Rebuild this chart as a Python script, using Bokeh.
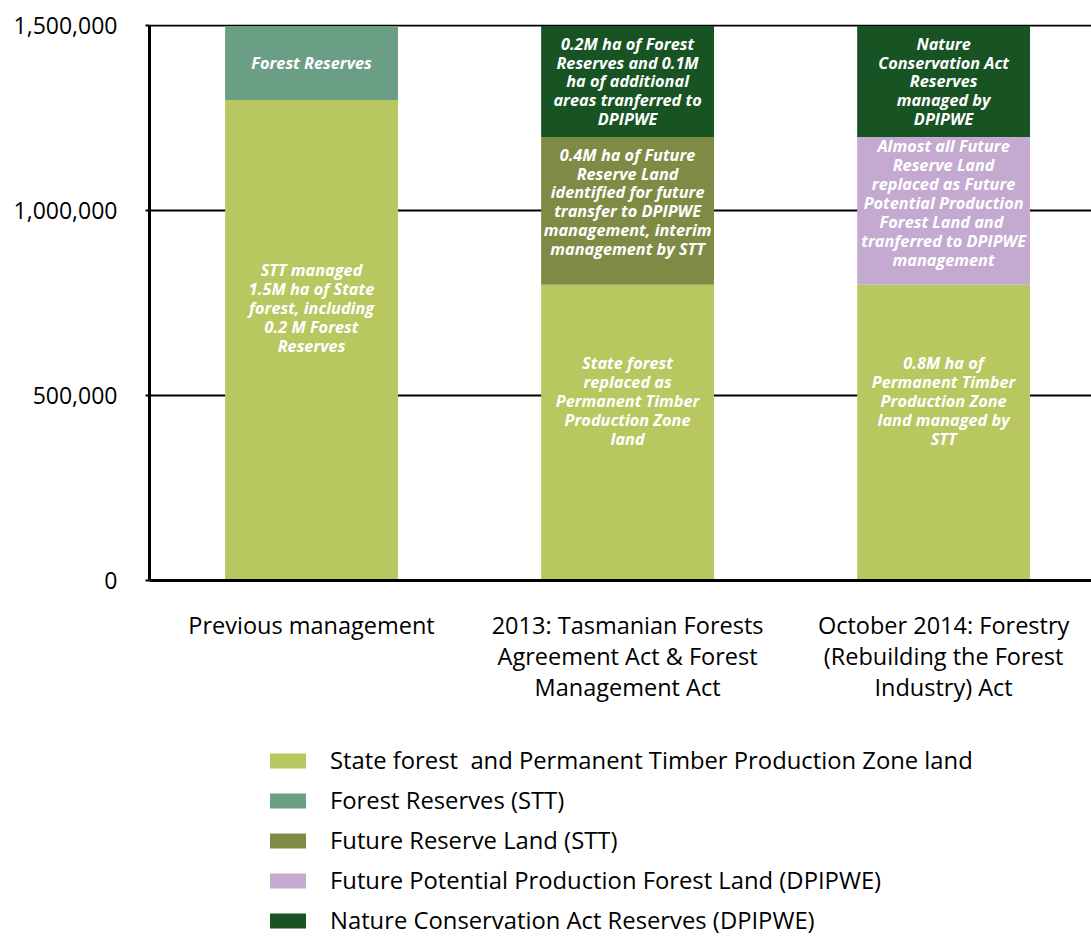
from bokeh.plotting import figure
from bokeh.models import (FixedTicker, NumeralTickFormatter, Range1d, Legend,
                          LegendItem, ColumnDataSource)
from bokeh.core.properties import value
from bokeh.embed import file_html
from bokeh.resources import INLINE

# ---------------- data ----------------
categories = [
    "Previous management",
    "2013: Tasmanian Forests\nAgreement Act & Forest\nManagement Act",
    "October 2014: Forestry\n(Rebuilding the Forest\nIndustry) Act",
]
series_names = [
    "State forest  and Permanent Timber Production Zone land",
    "Forest Reserves (STT)",
    "Future Reserve Land (STT)",
    "Future Potential Production Forest Land (DPIPWE)",
    "Nature Conservation Act Reserves (DPIPWE)",
]
state_forest = [1300000, 800000, 800000]
forest_reserves = [200000, 0, 0]
future_reserve = [0, 400000, 0]
future_potential = [0, 0, 400000]
nature_conservation = [0, 300000, 300000]
y_ticks = [0, 500000, 1000000, 1500000]

# (category index, series index, text)
bar_labels = [
    (0, 0, "STT managed\n1.5M ha of State\nforest, including\n0.2 M Forest\nReserves"),
    (0, 1, "Forest Reserves"),
    (1, 0, "State forest\nreplaced as\nPermanent Timber\nProduction Zone\nland"),
    (1, 2, "0.4M ha of Future\nReserve Land\nidentified for future\ntransfer to DPIPWE\nmanagement, interim\nmanagement by STT"),
    (1, 4, "0.2M ha of Forest\nReserves and 0.1M\nha of additional\nareas tranferred to\nDPIPWE"),
    (2, 0, "0.8M ha of\nPermanent Timber\nProduction Zone\nland managed by\nSTT"),
    (2, 3, "Almost all Future\nReserve Land\nreplaced as Future\nPotential Production\nForest Land  and\ntranferred to DPIPWE\nmanagement"),
    (2, 4, "Nature\nConservation Act\nReserves\nmanaged by\nDPIPWE"),
]

# ---------------- styles ----------------
colors = ["#b9c760", "#6a9f86", "#7f8b45", "#c4aad1", "#185324"]
label_offsets = {0: -32, 1: 0, 2: -9, 3: -8, 4: 0}  # screen px, per series
FONT = "Open Sans"

series_values = [state_forest, forest_reserves, future_reserve,
                 future_potential, nature_conservation]
keys = ["s%d" % i for i in range(len(series_names))]
xs = list(range(len(categories)))

data = {"x": xs}
for k, vals in zip(keys, series_values):
    data[k] = vals
source = ColumnDataSource(data)

# frame: 1.5M over 555px at top, extra 356px below zero for the legend/labels
y_top = max(y_ticks)
px = y_top / 555.0
p = figure(width=1091, height=936, output_backend="svg", toolbar_location=None,
           x_range=Range1d(-0.5127, 2.468),
           y_range=Range1d(-356 * px, y_top + 1.5 * px),
           min_border_left=149, min_border_right=0, min_border_top=24,
           min_border_bottom=0, x_axis_location=None)
p.outline_line_color = None

# grid first so bars cover it
p.ygrid.grid_line_color = "black"
p.ygrid.grid_line_width = 2
p.ygrid.ticker = FixedTicker(ticks=y_ticks)
p.xgrid.grid_line_color = None

renderers = p.vbar_stack(keys, x="x", width=0.547, source=source,
                         color=colors, line_color=None)

# baseline (x axis line)
p.hspan(y=[0], line_color="black", line_width=3)

# segment labels
lx, ly, lt, lo = [], [], [], []
for ci, si, txt in bar_labels:
    base = sum(series_values[j][ci] for j in range(si))
    lx.append(xs[ci])
    ly.append(base + series_values[si][ci] / 2)
    lt.append(txt)
    lo.append(label_offsets[si])
lsrc = ColumnDataSource(dict(x=lx, y=ly, text=lt, yo=lo))
p.text(x="x", y="y", text="text", y_offset="yo", source=lsrc,
       text_color="white", text_font=value(FONT), text_font_style="bold italic",
       text_font_size="16.3px", text_align="center", text_baseline="middle",
       text_line_height=0.86)

# category labels under the baseline
csrc = ColumnDataSource(dict(x=xs, y=[0] * len(xs), text=categories))
p.text(x="x", y="y", text="text", source=csrc, y_offset=28,
       text_color="black", text_font=value(FONT), text_font_size="23.5px",
       text_align="center", text_baseline="top", text_line_height=0.97)

# y axis
p.yaxis.bounds = (0, y_top)
p.yaxis.ticker = FixedTicker(ticks=y_ticks)
p.yaxis.formatter = NumeralTickFormatter(format="0,0")
p.yaxis.axis_line_width = 3
p.yaxis.axis_line_color = "black"
p.yaxis.major_tick_out = 4
p.yaxis.major_tick_in = 0
p.yaxis.major_tick_line_width = 2
p.yaxis.minor_tick_line_color = None
p.yaxis.major_label_standoff = 28
p.yaxis.major_label_text_font = FONT
p.yaxis.major_label_text_font_size = "23px"
p.yaxis.major_label_text_color = "black"

legend = Legend(items=[LegendItem(label=n, renderers=[r])
                       for n, r in zip(series_names, renderers)],
                location=(116, 0), orientation="vertical",
                glyph_width=45, glyph_height=19, label_height=19,
                label_standoff=20, spacing=8, padding=0, margin=0,
                border_line_color=None, background_fill_alpha=0,
                label_text_font=FONT, label_text_font_size="23.8px",
                label_text_color="black")
p.add_layout(legend, "center")

open("out.html", "w").write(file_html(p, INLINE))
